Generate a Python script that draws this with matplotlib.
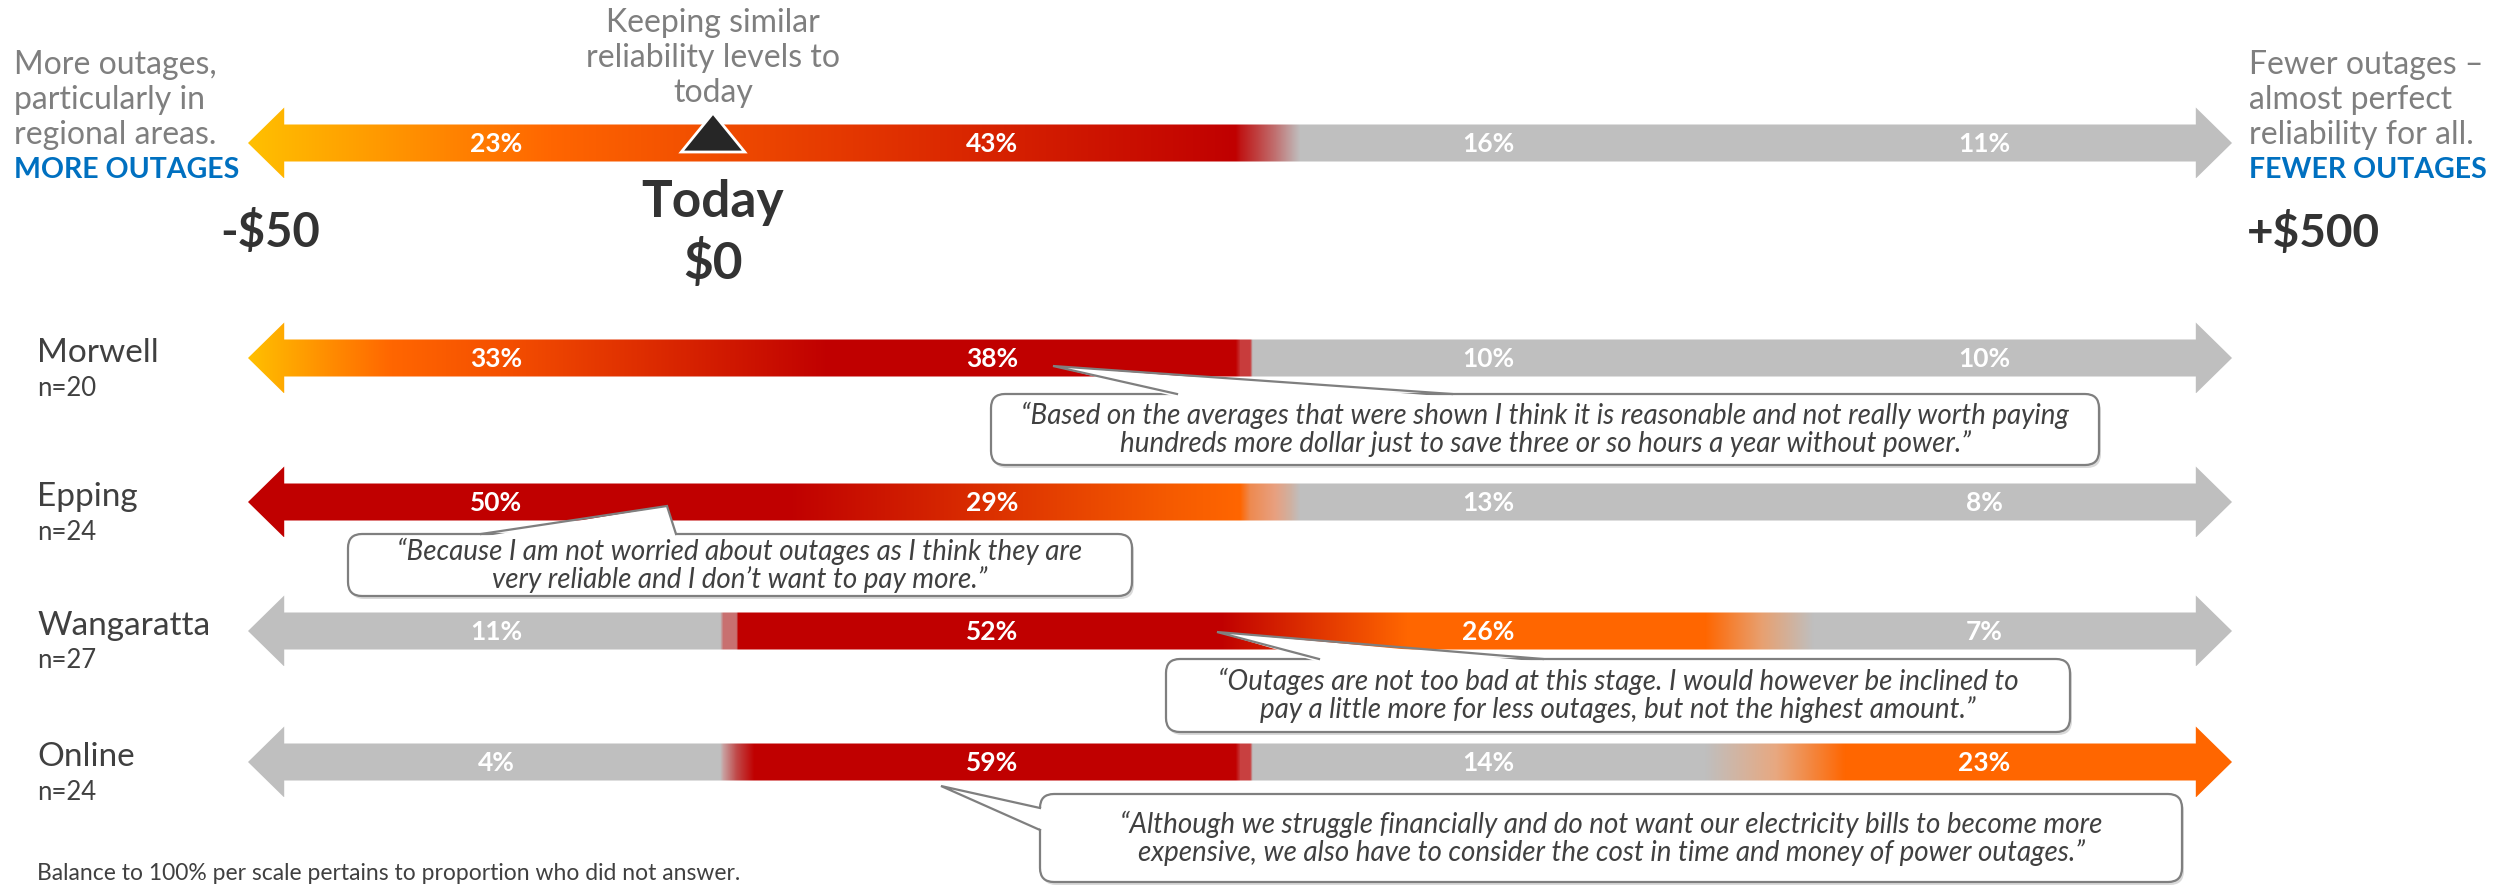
import numpy as np
import matplotlib.pyplot as plt
from matplotlib.colors import to_rgb
from matplotlib.patches import Polygon, FancyBboxPatch

plt.rcParams['font.family'] = ['Lato', 'DejaVu Sans']

# ------------------------------ data ------------------------------

row_names = ["Morwell", "Epping", "Wangaratta", "Online"]
row_n = [20, 24, 27, 24]

overall_pct = [23, 43, 16, 11]
morwell_pct = [33, 38, 10, 10]
epping_pct = [50, 29, 13, 8]
wangaratta_pct = [11, 52, 26, 7]
online_pct = [4, 59, 14, 23]

scale_low = "-$50"
scale_mid = ["Today", "$0"]
scale_high = "+$500"
today_pos = 0.9375  # $0 on the 0..4 scale

low_desc = ["More outages,", "particularly in", "regional areas."]
high_desc = ["Fewer outages \u2013", "almost perfect", "reliability for all."]
mid_desc = ["Keeping similar", "reliability levels to", "today"]

quotes = [
    "\u201cBased on the averages that were shown I think it is reasonable and not really worth paying\n"
    "hundreds more dollar just to save three or so hours a year without power.\u201d",
    "\u201cBecause I am not worried about outages as I think they are\n"
    "very reliable and I don\u2019t want to pay more.\u201d",
    "\u201cOutages are not too bad at this stage. I would however be inclined to\n"
    "pay a little more for less outages, but not the highest amount.\u201d",
    "\u201cAlthough we struggle financially and do not want our electricity bills to become more\n"
    "expensive, we also have to consider the cost in time and money of power outages.\u201d",
]
footnote = "Balance to 100% per scale pertains to proportion who did not answer."

# ------------------------------ styles ------------------------------

GREY = "#BFBFBF"
RED = "#C00000"
ORANGE = "#FF6600"
GOLD = "#FFC000"
TXT_GREY = "#7F7F7F"
TXT_DARK = "#404040"
BLUE = "#0070C0"

# colour stops along the 0..4 scale for each arrow
stops_overall = [(0, GOLD), (0.61, ORANGE), (1.31, "#E03000"), (1.99, RED),
                 (2.0, "#BF1515"), (2.04, "#C04848"), (2.07, "#C07070"), (2.10, "#C0A0A0"),
                 (2.12, GREY), (4, GREY)]
stops_morwell = [(0, GOLD), (0.165, "#FF8C00"), (0.29, ORANGE), (0.51, "#F55000"),
                 (1.17, RED), (1.99, RED), (2.0, "#C83C3C"), (2.02, "#C83C3C"),
                 (2.025, GREY), (4, GREY)]
stops_epping = [(0, RED), (1.09, RED), (1.52, "#DD3300"), (1.85, "#F55A00"), (2.0, ORANGE),
                (2.02, "#EE8A50"), (2.07, "#E8A080"), (2.10, "#D0B0A0"), (2.12, GREY), (4, GREY)]
stops_wangaratta = [(0, GREY), (0.952, GREY), (0.958, "#C87070"), (0.984, "#C87070"),
                    (0.988, RED), (1.96, RED), (2.335, ORANGE), (2.937, ORANGE),
                    (3.05, "#E8A070"), (3.155, GREY), (4, GREY)]
stops_online = [(0, GREY), (0.952, GREY), (0.958, "#C8A0A0"), (0.985, "#C04848"),
                (1.02, RED), (1.99, RED), (2.0, "#C84040"), (2.02, "#C84040"),
                (2.025, GREY), (2.937, GREY), (3.08, "#E8A880"), (3.22, ORANGE), (4, ORANGE)]

# vertical centres of the arrows (pixels from top)
row_y = [143, 358, 502, 631, 762]


def gradient(stops, n=4000):
    xs = np.linspace(0, 4, n)
    pos = [s[0] for s in stops]
    cols = np.array([to_rgb(s[1]) for s in stops])
    img = np.stack([np.interp(xs, pos, cols[:, k]) for k in range(3)], axis=-1)
    return img[np.newaxis, :, :]


def draw_arrow(ax, yc, stops, values):
    h, H, L = 18.5, 35.5, 0.073
    pts = [(0, yc), (L, yc - H), (L, yc - h), (4 - L, yc - h), (4 - L, yc - H), (4, yc),
           (4 - L, yc + H), (4 - L, yc + h), (L, yc + h), (L, yc + H)]
    shape = Polygon(pts, closed=True, facecolor="none", edgecolor="none")
    ax.add_patch(shape)
    img = ax.imshow(gradient(stops), extent=(0, 4, yc + H, yc - H),
                    aspect="auto", interpolation="nearest")
    img.set_clip_path(shape)
    for i, v in enumerate(values):
        ax.text(i + 0.5, yc + 1, f"{v}%", ha="center", va="center",
                color="white", fontsize=19, fontweight="bold")


def callout(lay, box, text, base, tip, side="top"):
    x0, y0, x1, y1 = box
    style = "round,pad=0,rounding_size=14"
    lay.add_patch(FancyBboxPatch((x0 + 2, y0 + 3), x1 - x0, y1 - y0, boxstyle=style,
                                 fc="#D9D9D9", ec="none", zorder=1))
    lay.add_patch(FancyBboxPatch((x0, y0), x1 - x0, y1 - y0, boxstyle=style,
                                 fc="white", ec=TXT_GREY, lw=1.6, zorder=2))
    if side == "top":
        p1, p2 = (base[0], y0), (base[1], y0)
        q1, q2 = (base[0], y0 + 3), (base[1], y0 + 3)
    else:
        p1, p2 = (x0, base[0]), (x0, base[1])
        q1, q2 = (x0 + 3, base[0]), (x0 + 3, base[1])
    lay.add_patch(Polygon([q1, tip, q2], closed=True, fc="white", ec="none", zorder=3))
    lay.plot([p1[0], tip[0], p2[0]], [p1[1], tip[1], p2[1]], color=TXT_GREY,
             lw=1.6, zorder=4, solid_joinstyle="miter")
    lay.text((x0 + x1) / 2, (y0 + y1) / 2, text, ha="center", va="center",
             fontsize=20, style="italic", color=TXT_DARK, linespacing=1.05, zorder=5)


fig = plt.figure(figsize=(25.01, 8.85), dpi=100)

# ------------------------------ arrows ------------------------------

ax = fig.add_axes([0, 0, 1, 1])
all_stops = [stops_overall, stops_morwell, stops_epping, stops_wangaratta, stops_online]
all_pct = [overall_pct, morwell_pct, epping_pct, wangaratta_pct, online_pct]
for yc, st, vals in zip(row_y, all_stops, all_pct):
    draw_arrow(ax, yc, st, vals)

# marker for today's level
ty = row_y[0]
ax.add_patch(Polygon([(today_pos - 0.064, ty + 9), (today_pos + 0.064, ty + 9),
                      (today_pos, ty - 30)], closed=True, fc="#262626", ec="white", lw=2))

ax.set_xlim(-0.5, 4.5423)
ax.set_ylim(885, 0)
ax.axis("off")

# ------------------------------ text and callouts ------------------------------

lay = fig.add_axes([0, 0, 1, 1])
lay.set_xlim(0, 2501)
lay.set_ylim(885, 0)
lay.axis("off")
lay.patch.set_visible(False)

for i, line in enumerate(low_desc):
    lay.text(14, 65 + 35 * i, line, ha="left", va="center", fontsize=23, color=TXT_GREY)
lay.text(14, 170, "MORE OUTAGES", ha="left", va="center", fontsize=20.5,
         fontweight="bold", color=BLUE)
for i, line in enumerate(high_desc):
    lay.text(2249, 65 + 35 * i, line, ha="left", va="center", fontsize=23, color=TXT_GREY)
lay.text(2249, 170, "FEWER OUTAGES", ha="left", va="center", fontsize=20.5,
         fontweight="bold", color=BLUE)
for i, line in enumerate(mid_desc):
    lay.text(713, 23 + 35 * i, line, ha="center", va="center", fontsize=23, color=TXT_GREY)

lay.text(270, 233, scale_low, ha="center", va="center", fontsize=34,
         fontweight="bold", color="#333333")
lay.text(713, 203, scale_mid[0], ha="center", va="center", fontsize=37,
         fontweight="bold", color="#333333")
lay.text(713, 263, scale_mid[1], ha="center", va="center", fontsize=37,
         fontweight="bold", color="#333333")
lay.text(2313, 233, scale_high, ha="center", va="center", fontsize=33,
         fontweight="bold", color="#333333")

for name, n, yc in zip(row_names, row_n, row_y[1:]):
    lay.text(37, yc - 5, name, ha="left", va="center", fontsize=24, color=TXT_DARK)
    lay.text(37, yc + 30, f"n={n}", ha="left", va="center", fontsize=18.5, color=TXT_DARK)

callout(lay, (991, 394, 2099, 465), quotes[0], (1177, 1452), (1053, 366))
callout(lay, (348, 534, 1132, 596), quotes[1], (481, 676), (667, 506))
callout(lay, (1166, 659, 2070, 732), quotes[2], (1319, 1543), (1217, 632))
callout(lay, (1040, 794, 2182, 882), quotes[3], (808, 830), (941, 786), side="left")

lay.text(37, 873, footnote, ha="left", va="center", fontsize=16.5, color=TXT_DARK)

fig.savefig("out.png", dpi=100)
